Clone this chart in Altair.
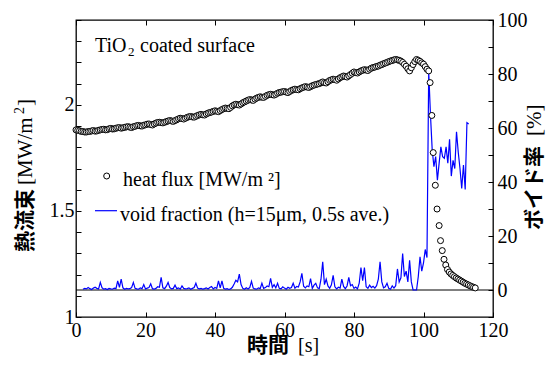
import altair as alt
import pandas as pd
import numpy as np

# ---------------- data ----------------
# heat flux [MW/m2], 0.5 s samples from 0 to 101.5 s
hf_time_pre = list(np.round(np.arange(0.0, 101.51, 0.5), 1))
hf_value_pre = [
    1.882, 1.880, 1.878, 1.875, 1.874, 1.872, 1.872, 1.874, 1.875, 1.877,
    1.879, 1.876, 1.877, 1.880, 1.882, 1.884, 1.885, 1.882, 1.883, 1.887,
    1.889, 1.886, 1.887, 1.890, 1.892, 1.893, 1.890, 1.892, 1.894, 1.896,
    1.897, 1.895, 1.893, 1.897, 1.899, 1.902, 1.903, 1.901, 1.900, 1.904,
    1.906, 1.909, 1.910, 1.907, 1.905, 1.910, 1.914, 1.917, 1.918, 1.916,
    1.915, 1.918, 1.921, 1.924, 1.926, 1.924, 1.922, 1.926, 1.930, 1.934,
    1.937, 1.935, 1.933, 1.937, 1.941, 1.944, 1.945, 1.943, 1.942, 1.946,
    1.950, 1.953, 1.955, 1.953, 1.952, 1.957, 1.961, 1.964, 1.966, 1.969,
    1.972, 1.970, 1.968, 1.973, 1.978, 1.982, 1.985, 1.983, 1.982, 1.988,
    1.995, 2.000, 2.003, 2.001, 1.999, 2.004, 2.010, 2.014, 2.018, 2.022,
    2.025, 2.023, 2.021, 2.027, 2.032, 2.035, 2.038, 2.036, 2.035, 2.040,
    2.045, 2.048, 2.050, 2.048, 2.046, 2.050, 2.055, 2.058, 2.060, 2.062,
    2.063, 2.060, 2.058, 2.063, 2.068, 2.071, 2.074, 2.072, 2.071, 2.076,
    2.080, 2.083, 2.086, 2.084, 2.082, 2.086, 2.090, 2.093, 2.096, 2.098,
    2.100, 2.104, 2.108, 2.105, 2.103, 2.109, 2.115, 2.118, 2.121, 2.119,
    2.116, 2.122, 2.128, 2.132, 2.136, 2.134, 2.131, 2.137, 2.143, 2.149,
    2.155, 2.152, 2.150, 2.155, 2.160, 2.163, 2.166, 2.164, 2.162, 2.168,
    2.173, 2.176, 2.178, 2.181, 2.183, 2.187, 2.190, 2.194, 2.197, 2.200,
    2.204, 2.207, 2.209, 2.212, 2.214, 2.212, 2.210, 2.206, 2.200, 2.191,
    2.182, 2.170, 2.160, 2.175, 2.190, 2.204, 2.214, 2.210, 2.205, 2.198,
    2.192, 2.180, 2.168, 2.160,
]
# heat flux after the burnout
hf_time_post = [101.9, 102.4, 102.8, 103.4, 103.9, 104.5, 104.9, 105.4, 105.9,
                106.4, 106.9, 107.4, 107.9, 108.4, 108.9, 109.4, 109.9, 110.4,
                110.9, 111.4, 111.9, 112.4, 112.9, 113.4, 113.9, 114.4, 114.9]
hf_value_post = [2.105, 1.950, 1.775, 1.621, 1.509, 1.431, 1.360, 1.313, 1.272,
                 1.245, 1.224, 1.212, 1.203, 1.196, 1.190, 1.184, 1.179, 1.174,
                 1.169, 1.164, 1.159, 1.155, 1.151, 1.147, 1.143, 1.140, 1.137]

# void fraction [%], 0.5 s averages from 2.0 s to 113.0 s
vf_time = list(np.round(np.arange(2.0, 113.01, 0.5), 1))
vf_value = [
    0.3, 0.6, 0.4, 0.9, 0.5, 0.2, 0.7, 1.0, 0.6, 0.4,
    2.8, 0.8, 0.3, 0.5, 0.2, 0.6, 0.4, 0.3, 0.7, 0.5,
    3.4, 1.0, 4.0, 0.8, 0.3, 0.6, 0.4, 0.5, 0.9, 2.8,
    0.6, 0.4, 0.3, 0.8, 0.5, 2.0, 0.4, 0.7, 0.9, 2.3,
    0.5, 0.3, 0.6, 1.2, 1.0, 4.7, 0.8, 0.5, 1.4, 2.8,
    0.9, 0.4, 0.6, 1.8, 0.5, 0.8, 0.3, 1.5, 0.6, 0.4,
    0.5, 0.8, 0.3, 0.6, 0.9, 2.5, 0.7, 0.4, 0.6, 0.3,
    0.5, 0.8, 0.4, 0.9, 1.3, 0.4, 0.9, 0.6, 3.4, 0.8,
    3.4, 0.6, 0.3, 0.5, 0.2, 0.4, 1.0, 2.2, 3.6, 3.0,
    5.9, 2.0, 0.6, 0.3, 0.8, 0.4, 0.9, 3.2, 0.7, 0.4,
    0.3, 0.8, 0.5, 2.5, 0.6, 0.9, 1.5, 1.2, 4.3, 1.0,
    2.0, 0.8, 2.5, 0.6, 0.4, 1.2, 0.7, 0.3, 1.0, 0.6,
    0.9, 2.5, 0.7, 1.3, 1.1, 3.0, 6.2, 1.4, 0.8, 1.5,
    1.2, 4.2, 0.6, 1.8, 2.5, 0.8, 0.5, 4.0, 10.4, 2.0,
    4.0, 1.5, 0.6, 1.9, 5.4, 1.2, 0.4, 1.0, 0.7, 4.0,
    1.3, 0.5, 1.5, 4.7, 1.6, 2.0, 0.6, 1.1, 0.4, 2.5,
    8.3, 3.5, 8.3, 1.2, 0.6, 1.8, 0.9, 1.4, 0.7, 1.6,
    4.0, 10.4, 3.0, 0.8, 1.2, 2.5, 0.6, 0.3, 1.5, 0.7,
    1.6, 7.8, 3.0, 4.5, 13.5, 5.0, 7.0, 3.0, 11.0, 3.0,
    0.0, 0.0, 0.0, 5.0, 12.3, 7.0, 10.0, 15.0, 12.0, 80.8,
    65.0, 52.0, 45.7, 49.4, 40.7, 47.0, 53.0, 49.4, 48.8, 53.0,
    47.0, 55.8, 42.2, 48.0, 45.0, 58.6, 51.0, 45.0, 37.6, 46.3,
    37.2, 62.0, 61.5,
]

x_ticks = [0, 20, 40, 60, 80, 100, 120]
hf_ticks = [1.0, 1.1, 1.2, 1.3, 1.4, 1.5, 1.6, 1.7, 1.8, 1.9, 2.0, 2.1, 2.2, 2.3, 2.4]
vf_ticks = [-10, 0, 10, 20, 30, 40, 50, 60, 70, 80, 90, 100]

# ---------------- chart ----------------
W, H = 417, 297
SERIF = "Liberation Serif"
CJK = "Noto Sans CJK JP"

hf_df = pd.DataFrame({"t": hf_time_pre + hf_time_post,
                      "q": hf_value_pre + hf_value_post})
vf_df = pd.DataFrame({"t": vf_time, "v": vf_value})
zero_df = pd.DataFrame({"v": [0]})
ann_df = pd.DataFrame({"a": [0]})

x_scale = alt.Scale(domain=[0, 120], nice=False, zero=False)
hf_scale = alt.Scale(domain=[1, 2.4], nice=False, zero=False)
vf_scale = alt.Scale(domain=[-10, 100], nice=False, zero=False)

# inward ticks: each axis is shifted 5px into the plot, ticks reach the frame
common = dict(
    labelFont=SERIF, labelFontSize=20, labelColor="black",
    tickColor="black", tickWidth=1, tickSize=5, offset=-5,
    domain=False, grid=False, labelOverlap=False, title=None,
)

axis_bottom = alt.Axis(orient="bottom", values=x_ticks, format="d",
                       labelPadding=3, labelFlush=False, **common)
axis_top = alt.Axis(orient="top", values=x_ticks, labels=False, **common)
axis_left = alt.Axis(
    orient="left", values=hf_ticks, labelPadding=2,
    labelExpr="datum.value == 1 ? '1' : (datum.value == 1.5 ? '1.5' : (datum.value == 2 ? '2' : ''))",
    **common)
axis_right = alt.Axis(
    orient="right", values=vf_ticks, labelPadding=4,
    labelExpr="(datum.value >= 0 && datum.value % 20 == 0) ? format(datum.value, 'd') : ''",
    **common)

zero_rule = alt.Chart(zero_df).mark_rule(color="black", strokeWidth=1).encode(
    y=alt.Y("v:Q", scale=vf_scale, axis=axis_right),
    x=alt.value(0), x2=alt.value(W),
)
void_line = alt.Chart(vf_df).mark_line(color="#0000ff", strokeWidth=1.2).encode(
    x=alt.X("t:Q", scale=x_scale, axis=axis_bottom),
    y=alt.Y("v:Q", scale=vf_scale, axis=axis_right),
)
void_layer = alt.layer(zero_rule, void_line)

hf_points = alt.Chart(hf_df).mark_point(
    shape="circle", size=36, filled=True, fill="white", stroke="black",
    strokeWidth=1, opacity=1,
).encode(
    x=alt.X("t:Q", scale=x_scale, axis=axis_top),
    y=alt.Y("q:Q", scale=hf_scale, axis=axis_left),
)


def txt(s, x, y, font=SERIF, size=20, align="left", baseline="alphabetic",
        angle=0, weight="normal"):
    return alt.Chart(ann_df).mark_text(
        text=s, font=font, fontSize=size, align=align, baseline=baseline,
        angle=angle, fontWeight=weight, color="black",
    ).encode(x=alt.value(x), y=alt.value(y))


LX = -50   # left title centre (plot coords)
RX = 459   # right title centre (plot coords)

annotations = [
    # panel label
    txt("TiO", 19, 32),
    txt("2", 52, 36, size=13),
    txt("coated surface", 64, 32),
    # legend
    alt.Chart(ann_df).mark_point(
        shape="circle", size=36, filled=True, fill="white", stroke="black",
        strokeWidth=1, opacity=1,
    ).encode(x=alt.value(30.7), y=alt.value(156)),
    txt("heat flux [MW/m \u00b2]", 47, 166),
    alt.Chart(ann_df).mark_rule(color="#0000ff", strokeWidth=1.2).encode(
        x=alt.value(19), x2=alt.value(41), y=alt.value(190.7)),
    txt("void fraction (h=15\u03bcm, 0.5s ave.)", 44, 201),
    # x axis title
    txt("時間", 213, 332, font=CJK, size=21, align="right", weight="bold"),
    txt("[s]", 222, 332, size=20),
    # left axis title (rotated, reads bottom to top)
    txt("熱流束", LX, 169, font=CJK, size=21, align="right",
        baseline="middle", angle=270, weight="bold"),
    txt("[MW/m", LX, 165, size=21, align="left", baseline="middle", angle=270),
    txt("2", LX - 6, 94, size=14, align="left", baseline="middle", angle=270),
    txt("]", LX, 86, size=21, align="left", baseline="middle", angle=270),
    # right axis title
    txt("ボイド率", RX, 126, font=CJK, size=21, align="right",
        baseline="middle", angle=270, weight="bold"),
    txt("[%]", RX, 116, size=21, align="left", baseline="middle", angle=270),
]

chart = alt.layer(void_layer, hf_points, *annotations).resolve_scale(
    y="independent"
).resolve_axis(
    x="independent", y="independent"
).properties(
    width=W, height=H,
    padding={"left": 68, "top": 12, "right": 53, "bottom": 40},
    autosize=alt.AutoSizeParams(type="none"),
    background="white",
).configure_view(stroke="black", strokeWidth=1.3)

chart.save("out.html", embed_options={"renderer": "svg", "actions": False})
